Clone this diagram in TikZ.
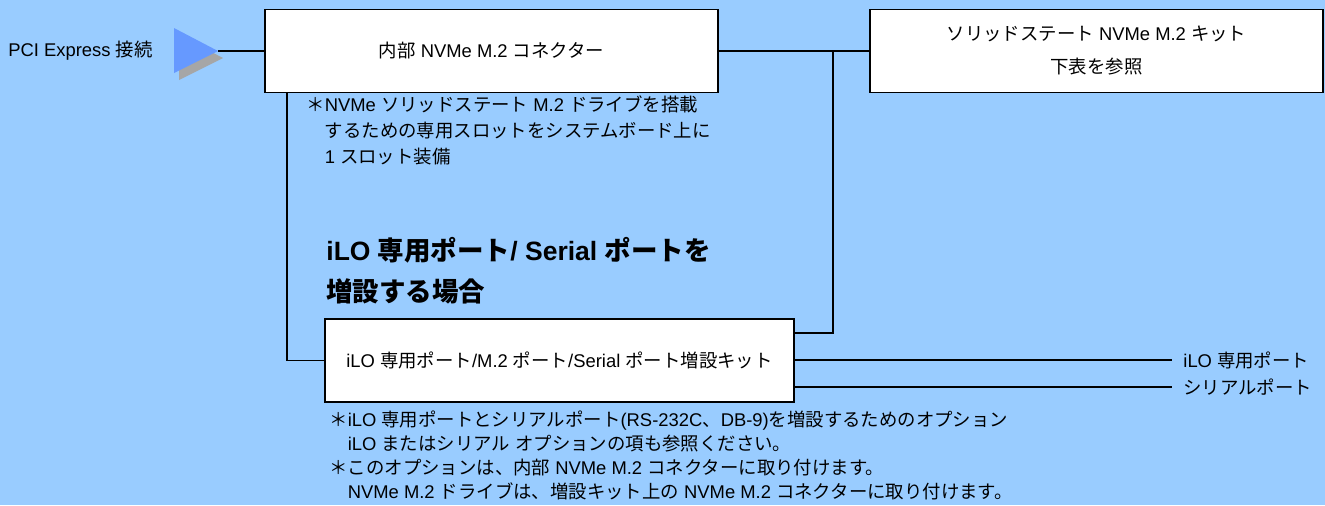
\documentclass[tikz,border=0pt]{standalone}
\usepackage{fontspec}
\setmainfont{Liberation Sans}
\newfontfamily\cjk{Noto Sans CJK JP}
\XeTeXinterchartokenstate=1
\newXeTeXintercharclass\jpclass
\newcount\jpc
\jpc="3000
\loop \XeTeXcharclass\jpc=\jpclass \ifnum\jpc<"9FFF \advance\jpc by 1 \repeat
\jpc="FF00
\loop \XeTeXcharclass\jpc=\jpclass \ifnum\jpc<"FFEF \advance\jpc by 1 \repeat
\XeTeXinterchartoks 0 \jpclass = {\cjk}
\XeTeXinterchartoks 4095 \jpclass = {\cjk}
\XeTeXinterchartoks \jpclass 0 = {\rmfamily}
\XeTeXinterchartoks \jpclass 4095 = {\rmfamily}
\definecolor{bgblue}{RGB}{153,204,255}
\definecolor{triblue}{RGB}{102,153,255}
\definecolor{shadowgray}{RGB}{166,166,166}
\tikzstyle{box}=[draw,fill=white,line width=0.7pt,minimum width=226.5pt,minimum height=41.5pt,inner sep=0pt,font=\fontsize{9.2}{13}\selectfont]
\tikzstyle{conn}=[line width=0.7pt]
\tikzstyle{txt}=[inner sep=0pt,font=\fontsize{9.2}{13}\selectfont]
\tikzstyle{notes}=[align=left,inner sep=0pt,anchor=base west,font=\fontsize{9.2}{12}\selectfont]
\tikzstyle{heading}=[align=left,inner sep=0pt,anchor=base west,font=\bfseries\fontsize{13.25}{20.5}\selectfont]
\tikzstyle{portlabel}=[anchor=west,inner xsep=5.5pt,inner ysep=0pt,font=\fontsize{9.2}{13}\selectfont]

\begin{document}
\begin{tikzpicture}[x=0.5pt,y=-0.5pt]
    \useasboundingbox (0,0) rectangle (1325,505);
    \fill[bgblue] (0,0) rectangle (1325,505);

    \node[txt,anchor=west] (pcie) at (8,51) {PCI Express 接続};
    \fill[shadowgray] (179,35) -- (223,58) -- (179,80) -- cycle;
    \fill[triblue] (174,28) -- (218,51) -- (174,73) -- cycle;
    \coordinate (tip) at (218,51);

    \node[box] (m2conn) at (491.5,51) {内部 NVMe M.2 コネクター};
    \node[box,align=center,font=\fontsize{9.2}{16.5}\selectfont] (nvmekit) at (1096.5,51) {ソリッドステート NVMe M.2 キット\\下表を参照};
    \node[box,minimum width=234.5pt] (ilokit) at (559.5,360.5) {iLO 専用ポート/M.2 ポート/Serial ポート増設キット};

    \node[notes,font=\fontsize{9.2}{13}\selectfont] (m2note) at (306,163) {＊NVMe ソリッドステート M.2 ドライブを搭載\\\phantom{＊}するための専用スロットをシステムボード上に\\\phantom{＊}1 スロット装備};
    \node[heading] (title) at (326,301) {iLO 専用ポート/ Serial ポートを\\増設する場合};
    \node[notes] (ilonote) at (329,498) {＊iLO 専用ポートとシリアルポート(RS-232C、DB-9)を増設するためのオプション\\\phantom{＊}iLO またはシリアル オプションの項も参照ください。\\＊このオプションは、内部 NVMe M.2 コネクターに取り付けます。\\\phantom{＊}NVMe M.2 ドライブは、増設キット上の NVMe M.2 コネクターに取り付けます。};

    \node[portlabel] (iloport) at (1172,360) {iLO 専用ポート};
    \node[portlabel] (serport) at (1172,387) {シリアルポート};

    \coordinate (tjoin) at (833,51);
    \coordinate (rjoin) at (833,333);
    \coordinate (ljoin) at (287,360.5);

    \draw[conn] (tip) -- (m2conn.west);
    \draw[conn] (m2conn.east) -- (nvmekit.west);
    \draw[conn] (tjoin) -- (rjoin) -- (rjoin -| ilokit.east);
    \draw[conn] (ljoin |- m2conn.south) -- (ljoin) -- (ilokit.west);
    \foreach \p in {iloport,serport}
    \draw[conn] (ilokit.east |- \p) -- (\p.west);
\end{tikzpicture}
\end{document}
